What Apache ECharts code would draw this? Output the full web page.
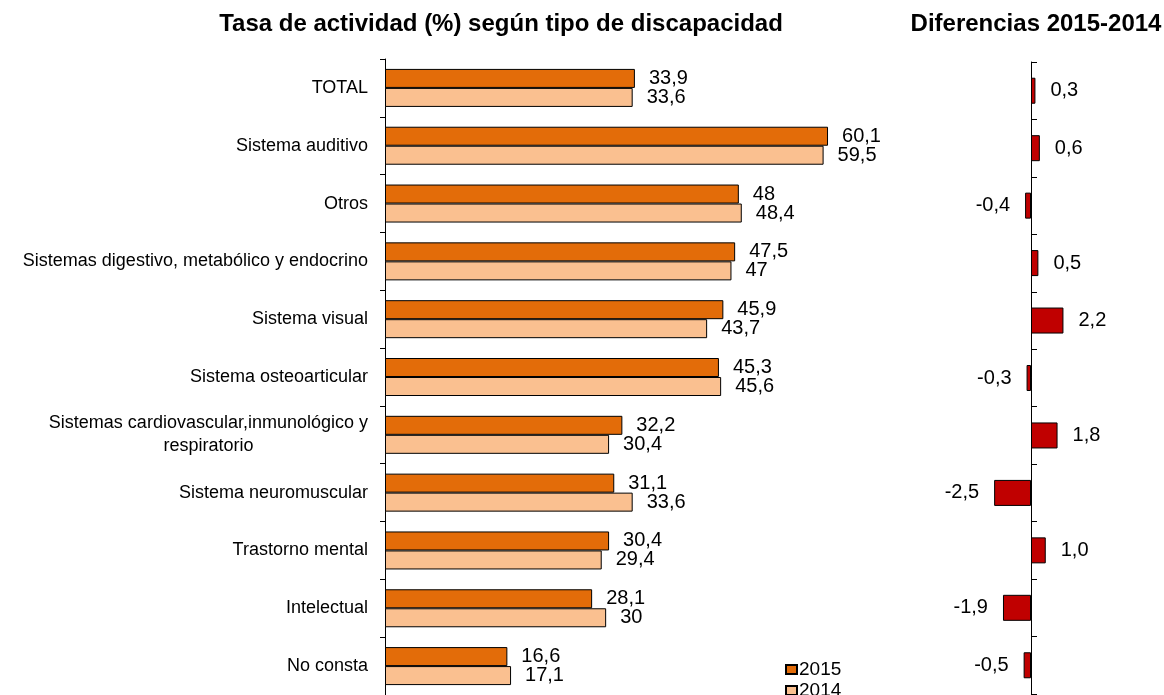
<!DOCTYPE html>
<html>
<head>
<meta charset="utf-8">
<script src="https://cdn.jsdelivr.net/npm/echarts@6/dist/echarts.min.js"></script>
<style>
  html, body { margin: 0; padding: 0; background: #fff; }
  #chart { width: 1164px; height: 695px; }
</style>
</head>
<body>
<div id="chart"></div>
<script>
const categories = [
  'TOTAL',
  'Sistema auditivo',
  'Otros',
  'Sistemas digestivo, metabólico y endocrino',
  'Sistema visual',
  'Sistema osteoarticular',
  'Sistemas cardiovascular,inmunológico y\nrespiratorio',
  'Sistema neuromuscular',
  'Trastorno mental',
  'Intelectual',
  'No consta'
];
const values2015 = [33.9, 60.1, 48, 47.5, 45.9, 45.3, 32.2, 31.1, 30.4, 28.1, 16.6];
const values2014 = [33.6, 59.5, 48.4, 47, 43.7, 45.6, 30.4, 33.6, 29.4, 30, 17.1];
const diffs = [0.3, 0.6, -0.4, 0.5, 2.2, -0.3, 1.8, -2.5, 1.0, -1.9, -0.5];

const font = 'Liberation Sans, Arial, sans-serif';
const fmtLeft = p => String(p.value).replace('.', ',');
const fmtRight = p => p.value.toFixed(1).replace('.', ',');

const myChart = echarts.init(document.getElementById('chart'));

const legendBase = {
  left: 780,
  itemWidth: 11, itemHeight: 9,
  icon: 'rect',
  textStyle: { fontSize: 19, color: '#000', fontFamily: font, padding: [0, 0, 0, -3] }
};

const option = {
  animation: false,
  textStyle: { fontFamily: font },
  title: [
    {
      text: 'Tasa de actividad (%) según tipo de discapacidad',
      left: 496, top: 7, textAlign: 'center',
      textStyle: { fontSize: 24, fontWeight: 'bold', color: '#000', fontFamily: font }
    },
    {
      text: 'Diferencias 2015-2014',
      left: 1031, top: 7, textAlign: 'center',
      textStyle: { fontSize: 24, fontWeight: 'bold', color: '#000', fontFamily: font }
    }
  ],
  legend: [
    Object.assign({ top: 655, data: ['2015'] }, legendBase),
    Object.assign({ top: 676, data: ['2014'] }, legendBase)
  ],
  grid: [
    { left: 385, top: 59, width: 516, height: 636 },
    { left: 972, top: 62, width: 118, height: 632 }
  ],
  xAxis: [
    { gridIndex: 0, type: 'value', min: 0, max: 70, show: false },
    { gridIndex: 1, type: 'value', min: -4, max: 4, show: false }
  ],
  yAxis: [
    {
      gridIndex: 0, type: 'category', data: categories, inverse: true,
      axisLine: { show: true, lineStyle: { color: '#000', width: 1 } },
      axisTick: { show: true, length: 5, lineStyle: { color: '#000' } },
      axisLabel: {
        margin: 17,
        formatter: v => v.split('\n').map(l => '{a|' + l + '}').join('\n'),
        rich: { a: { fontSize: 18, color: '#000', align: 'center', fontFamily: font, lineHeight: 23 } }
      }
    },
    {
      gridIndex: 1, type: 'category', data: categories, inverse: true,
      axisLine: { show: true, onZero: true, lineStyle: { color: '#000', width: 1 } },
      axisTick: { show: true, inside: true, length: 6, lineStyle: { color: '#000' } },
      axisLabel: { show: false }
    }
  ],
  series: [
    {
      name: '2015', type: 'bar', xAxisIndex: 0, yAxisIndex: 0,
      data: values2015, barWidth: 19, barGap: '0%',
      itemStyle: { color: '#E36C09', borderColor: '#000', borderWidth: 1 },
      label: { show: true, position: 'right', distance: 14, formatter: fmtLeft, fontSize: 20, color: '#000', fontFamily: font }
    },
    {
      name: '2014', type: 'bar', xAxisIndex: 0, yAxisIndex: 0,
      data: values2014, barWidth: 19, barGap: '0%',
      itemStyle: { color: '#FAC090', borderColor: '#000', borderWidth: 1 },
      label: { show: true, position: 'right', distance: 14, formatter: fmtLeft, fontSize: 20, color: '#000', fontFamily: font }
    },
    {
      name: 'Diferencia', type: 'bar', xAxisIndex: 1, yAxisIndex: 1,
      data: diffs.map(v => ({
        value: v,
        label: { position: v < 0 ? 'left' : 'right' }
      })),
      barWidth: 26,
      itemStyle: { color: '#C00000', borderColor: '#000', borderWidth: 1 },
      label: { show: true, distance: 15, formatter: fmtRight, fontSize: 20, color: '#000', fontFamily: font }
    }
  ]
};

myChart.setOption(option);
window.addEventListener('resize', () => myChart.resize());
</script>
</body>
</html>
